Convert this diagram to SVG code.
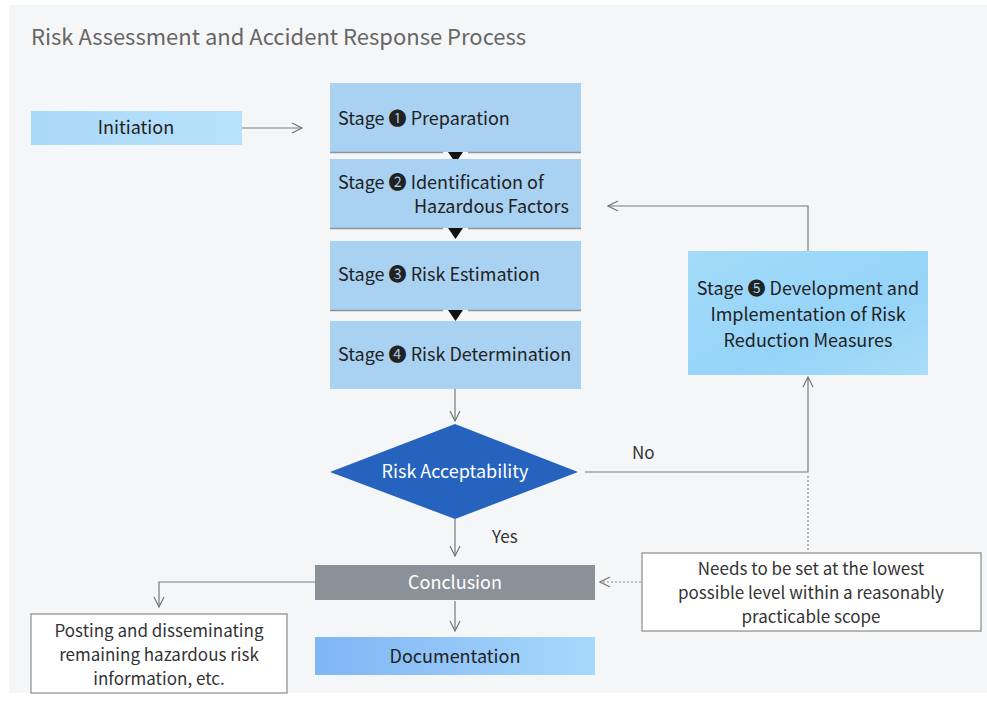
<svg xmlns="http://www.w3.org/2000/svg" width="987" height="701" viewBox="0 0 987 701">
<defs>
<linearGradient id="gInit" x1="0" y1="0" x2="1" y2="0"><stop offset="0" stop-color="#a9d8f6"/><stop offset="1" stop-color="#b8e2fb"/></linearGradient>
<linearGradient id="gS5" x1="0" y1="0" x2="1" y2="1"><stop offset="0" stop-color="#a3dbf9"/><stop offset="0.6" stop-color="#95d4f8"/><stop offset="1" stop-color="#a9dcf8"/></linearGradient>
<linearGradient id="gDoc" x1="0" y1="0" x2="1" y2="0"><stop offset="0" stop-color="#7fb5f5"/><stop offset="1" stop-color="#a7d8fb"/></linearGradient>
<marker id="arr" viewBox="0 0 12 12" refX="11" refY="6" markerWidth="12" markerHeight="12" markerUnits="userSpaceOnUse" orient="auto"><path d="M1,1 L11,6 L1,11" fill="none" stroke="#777" stroke-width="1.2"/></marker>
</defs>
<style>
text{font-family:"Noto Sans CJK KR","Noto Sans",sans-serif;}
.t{font-size:18px;fill:#222;}
.w{font-size:18px;fill:#fff;}
.n{font-size:17px;fill:#333;}
.stage{fill:#a9d1f1;}
.sep{stroke:#8f959b;stroke-width:1.5;}
.ln{fill:none;stroke:#7a7a7a;stroke-width:1.2;}
.dot{fill:none;stroke:#888;stroke-width:1.2;stroke-dasharray:2 2;}
.box{fill:#fff;stroke:#8a8a8a;stroke-width:1.2;}
</style>
<rect x="0" y="0" width="987" height="701" fill="#ffffff"/>
<rect x="9" y="5" width="978" height="688" fill="#f5f6f8"/>
<text x="31" y="45" style="font-size:22px;fill:#666;">Risk Assessment and Accident Response Process</text>

<g id="connectors">
<line class="ln" x1="242" y1="128" x2="302" y2="128" marker-end="url(#arr)"/>
<polyline class="ln" points="808,251 808,206 608,206" marker-end="url(#arr)"/>
<line class="ln" x1="455" y1="389" x2="455" y2="421" marker-end="url(#arr)"/>
<polyline class="ln" points="585,472 808,472 808,377" marker-end="url(#arr)"/>
<line class="dot" x1="808" y1="476" x2="808" y2="552"/>
<line class="ln" x1="455" y1="519" x2="455" y2="556" marker-end="url(#arr)"/>
<line class="dot" x1="641" y1="582" x2="600" y2="582" marker-end="url(#arr)"/>
<line class="ln" x1="455" y1="601" x2="455" y2="631" marker-end="url(#arr)"/>
<polyline class="ln" points="315,582 159,582 159,607" marker-end="url(#arr)"/>
<text class="n" x="632" y="459">No</text>
<text class="n" x="492" y="543">Yes</text>
</g>

<g id="initiation">
<rect x="31" y="111" width="211" height="34" fill="url(#gInit)"/>
<text class="t" x="136" y="134" text-anchor="middle">Initiation</text>
</g>

<g id="stage1">
<rect class="stage" x="330" y="83" width="251" height="69"/>
<path class="sep" d="M330,152.5 H443 M468,152.5 H581"/>
<path d="M448,152 L463,152 L455.5,163 Z" fill="#111"/>
<text class="t" x="338" y="125">Stage ❶ Preparation</text>
</g>

<g id="stage2">
<rect class="stage" x="330" y="159" width="251" height="69"/>
<path class="sep" d="M330,228.5 H443 M468,228.5 H581"/>
<path d="M448,228 L463,228 L455.5,239 Z" fill="#111"/>
<text class="t" x="338" y="189">Stage ❷ Identification of</text>
<text class="t" x="414" y="213">Hazardous Factors</text>
</g>

<g id="stage3">
<rect class="stage" x="330" y="241" width="251" height="69"/>
<path class="sep" d="M330,310.5 H443 M468,310.5 H581"/>
<path d="M448,310 L463,310 L455.5,321 Z" fill="#111"/>
<text class="t" x="338" y="281">Stage ❸ Risk Estimation</text>
</g>

<g id="stage4">
<rect class="stage" x="330" y="321" width="251" height="68"/>
<text class="t" x="338" y="361">Stage ❹ Risk Determination</text>
</g>

<g id="stage5">
<rect x="688" y="251" width="240" height="124" fill="url(#gS5)"/>
<text class="t" text-anchor="middle" x="808" y="295">Stage ❺ Development and</text>
<text class="t" text-anchor="middle" x="808" y="321">Implementation of Risk</text>
<text class="t" text-anchor="middle" x="808" y="347">Reduction Measures</text>
</g>

<g id="decision">
<polygon points="330,472 455,424 578,472 455,519" fill="#2563be"/>
<text class="w" x="455" y="478" text-anchor="middle">Risk Acceptability</text>
</g>

<g id="conclusion">
<rect x="315" y="565" width="280" height="35" fill="#8a9199"/>
<text class="w" x="455" y="589" text-anchor="middle">Conclusion</text>
</g>

<g id="documentation">
<rect x="315" y="637" width="280" height="38" fill="url(#gDoc)"/>
<text class="t" x="455" y="663" text-anchor="middle">Documentation</text>
</g>

<g id="note">
<rect class="box" x="642" y="553" width="339" height="78"/>
<text class="n" text-anchor="middle" x="811" y="575">Needs to be set at the lowest</text>
<text class="n" text-anchor="middle" x="811" y="599">possible level within a reasonably</text>
<text class="n" text-anchor="middle" x="811" y="623">practicable scope</text>
</g>

<g id="posting">
<rect class="box" x="31" y="614" width="256" height="79"/>
<text class="n" text-anchor="middle" x="159" y="637">Posting and disseminating</text>
<text class="n" text-anchor="middle" x="159" y="661">remaining hazardous risk</text>
<text class="n" text-anchor="middle" x="159" y="685">information, etc.</text>
</g>
</svg>
